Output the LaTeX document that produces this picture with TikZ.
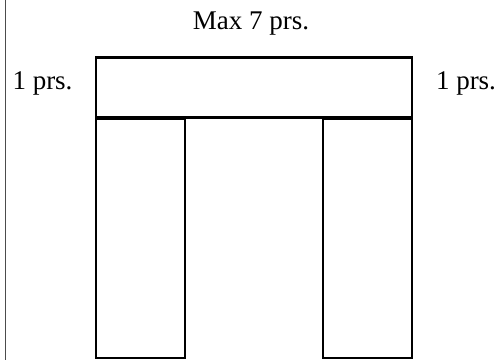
\documentclass[tikz,border=0pt]{standalone}
\usepackage{fontspec}
\setmainfont{Liberation Serif}
\begin{document}
\begin{tikzpicture}[x=1pt,y=-1pt,
  box/.style={draw=black,line width=2.5pt},
  lbl/.style={font=\fontsize{27}{32}\selectfont,anchor=base,inner sep=0pt}]
\useasboundingbox (0,0) rectangle (498,360);
\draw[draw=black!70,line width=1pt] (5,0) -- (5,360);
\node[lbl] (max) at (251,29) {Max 7 prs.};
\node[lbl] (l1) at (42.5,89) {1 prs.};
\node[lbl] (r1) at (466,89) {1 prs.};
\draw[box] (96,57.5) rectangle (412,117.5);
\draw[box] (96,118.5) rectangle (185,358);
\draw[box] (323,118.5) rectangle (412,358);
\end{tikzpicture}
\end{document}
